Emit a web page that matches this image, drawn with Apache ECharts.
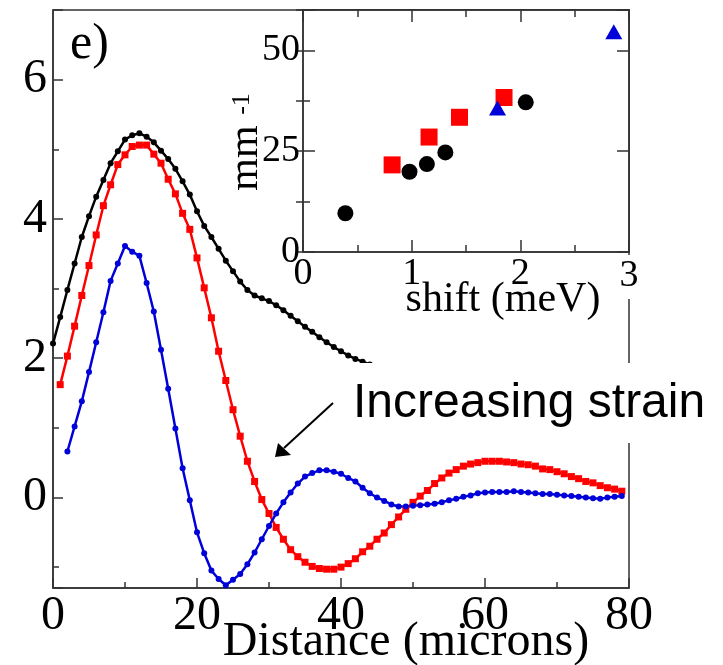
<!DOCTYPE html>
<html><head><meta charset="utf-8">
<script src="https://cdn.jsdelivr.net/npm/echarts@6/dist/echarts.min.js"></script>
<style>html,body{margin:0;padding:0;background:#fff}#c{width:723px;height:665px}</style>
</head><body><div id="c"></div>
<script>
// ---- main panel data (Distance in microns vs value) ----
const blackX = [0,1,2,3,4,5,6,7,8,9,10,11,12,13,14,15,16,17,18,19,20,21,22,23,24,25,26,27,28,29,30,31,32,33,34,35,36,37,38,39,40,41,42,43,44,45,46];
const blackY = [2.21,2.59,2.98,3.36,3.74,4.04,4.32,4.56,4.80,4.97,5.14,5.20,5.23,5.18,5.10,4.98,4.86,4.72,4.54,4.35,4.11,3.90,3.74,3.57,3.40,3.25,3.10,2.98,2.90,2.86,2.82,2.76,2.69,2.61,2.53,2.45,2.38,2.30,2.23,2.16,2.10,2.04,1.99,1.95,1.91,1.87,1.83];
const redX = [1,2,3,4,5,6,7,8,9,10,11,12,13,14,15,16,17,18,19,20,21,22,23,24,25,26,27,28,29,30,31,32,33,34,35,36,37,38,39,40,41,42,43,44,45,46,47,48,49,50,51,52,53,54,55,56,57,58,59,60,61,62,63,64,65,66,67,68,69,70,71,72,73,74,75,76,77,78,79];
const redY = [1.62,2.03,2.46,2.90,3.33,3.77,4.19,4.49,4.78,4.92,5.04,5.06,5.06,4.93,4.80,4.57,4.36,4.08,3.85,3.44,3.01,2.58,2.10,1.68,1.26,0.88,0.52,0.23,-0.03,-0.23,-0.43,-0.60,-0.75,-0.85,-0.93,-0.99,-1.02,-1.03,-1.03,-1.00,-0.95,-0.88,-0.78,-0.70,-0.60,-0.51,-0.39,-0.28,-0.17,-0.07,0.02,0.10,0.20,0.28,0.35,0.40,0.45,0.48,0.50,0.52,0.52,0.52,0.51,0.50,0.48,0.47,0.45,0.41,0.40,0.37,0.34,0.30,0.27,0.23,0.21,0.17,0.14,0.12,0.09];
const blueX = [2,3,4,5,6,7,8,9,10,11,12,13,14,15,16,17,18,19,20,21,22,23,24,25,26,27,28,29,30,31,32,33,34,35,36,37,38,39,40,41,42,43,44,45,46,47,48,49,50,51,52,53,54,55,56,57,58,59,60,61,62,63,64,65,66,67,68,69,70,71,72,73,74,75,76,77,78,79];
const blueY = [0.66,1.02,1.38,1.80,2.23,2.66,3.11,3.36,3.61,3.53,3.47,3.08,2.67,2.12,1.56,0.99,0.42,-0.04,-0.50,-0.80,-1.05,-1.17,-1.26,-1.18,-1.10,-0.96,-0.79,-0.60,-0.41,-0.23,-0.07,0.07,0.20,0.30,0.35,0.39,0.39,0.37,0.34,0.28,0.23,0.14,0.06,0.00,-0.05,-0.10,-0.13,-0.13,-0.12,-0.11,-0.10,-0.09,-0.07,-0.04,-0.02,0.01,0.03,0.06,0.07,0.08,0.08,0.08,0.09,0.08,0.07,0.06,0.05,0.05,0.04,0.03,0.02,0.01,0.00,-0.01,-0.02,0.00,0.01,0.02];
const mainXTickLabels = [0,20,40,60,80];
const mainYTickLabels = [0,2,4,6];

// ---- inset data (shift in meV vs mm^-1) ----
const insetBlackX = [0.39,0.98,1.14,1.31,2.05];
const insetBlackY = [9.6,19.9,21.8,24.7,37.1];
const insetRedX = [0.82,1.16,1.44,1.85];
const insetRedY = [21.6,28.5,33.4,38.3];
const insetBlueX = [1.79,2.86];
const insetBlueY = [35.7,54.6];
const insetXTickLabels = [0,1,2,3];
const insetYTickLabels = [0,25,50];

const zip = (a, b) => a.map((v, i) => [v, b[i]]);
const SERIF = '"Liberation Serif","Times New Roman",serif';
const SANS = '"Liberation Sans",Arial,sans-serif';
const AX = '#333';
const BLUE = '#0000d8';

const chart = echarts.init(document.getElementById('c'), null, {renderer: 'canvas'});
const isIn = (arr, v) => arr.some(t => Math.abs(t - v) < 1e-6);

chart.setOption({
  animation: false,
  grid: [
    {left: 53, top: 10, width: 576, height: 578, show: true, borderColor: AX, borderWidth: 1.5, backgroundColor: 'transparent'},
    {left: 303, top: 10, width: 326, height: 242, show: true, borderColor: AX, borderWidth: 1.5, backgroundColor: '#fff'}
  ],
  xAxis: [
    {gridIndex: 0, type: 'value', min: 0, max: 80, interval: 20, position: 'bottom',
     axisLine: {onZero: false, lineStyle: {color: AX, width: 1.5}},
     axisTick: {inside: true, length: 10, lineStyle: {color: AX, width: 1.5}},
     minorTick: {show: true, splitNumber: 2, length: 6, lineStyle: {color: AX, width: 1.5}},
     splitLine: {show: false},
     axisLabel: {margin: 4, fontSize: 48, fontFamily: SERIF, color: '#000',
       formatter: v => isIn(mainXTickLabels, v) ? String(Math.round(v)) : ''}},
    {gridIndex: 1, type: 'value', min: 0, max: 3, interval: 1, position: 'bottom', z: 5,
     axisLine: {onZero: false, lineStyle: {color: AX, width: 1.5}},
     axisTick: {inside: true, length: 12, lineStyle: {color: AX, width: 1.5}},
     minorTick: {show: true, splitNumber: 2, length: 7, lineStyle: {color: AX, width: 1.5}},
     splitLine: {show: false},
     axisLabel: {margin: 3, fontSize: 38, fontFamily: SERIF, color: '#000',
       formatter: v => isIn(insetXTickLabels, v) ? (Math.round(v) === 3 ? '{w|3}' : String(Math.round(v))) : '',
       rich: {w: {fontSize: 38, fontFamily: SERIF, color: '#000', backgroundColor: '#fff', padding: [2, 2, 4, 2]}}}},
    {gridIndex: 1, type: 'value', min: 0, max: 3, interval: 1, position: 'top',
     axisLine: {onZero: false, lineStyle: {color: AX, width: 1.5}},
     axisTick: {inside: true, length: 12, lineStyle: {color: AX, width: 1.5}},
     minorTick: {show: true, splitNumber: 2, length: 7, lineStyle: {color: AX, width: 1.5}},
     splitLine: {show: false}, axisLabel: {show: false}}
  ],
  yAxis: [
    {gridIndex: 0, type: 'value', min: -1.3, max: 7, minInterval: 2, maxInterval: 2, splitNumber: 4, position: 'left',
     axisLine: {onZero: false, lineStyle: {color: AX, width: 1.5}},
     axisTick: {inside: true, length: 10, lineStyle: {color: AX, width: 1.5}},
     splitLine: {show: false},
     axisLabel: {margin: 6, fontSize: 48, fontFamily: SERIF, color: '#000',
       formatter: v => isIn(mainYTickLabels, v) ? String(Math.round(v)) : ''}},
    {gridIndex: 0, type: 'value', min: -1.3, max: 7, minInterval: 1, maxInterval: 1, splitNumber: 8, position: 'left',
     axisLine: {show: false},
     axisTick: {inside: true, length: 6, lineStyle: {color: AX, width: 1.5}},
     splitLine: {show: false}, axisLabel: {show: false}},
    {gridIndex: 1, type: 'value', min: 0, max: 60, interval: 25, position: 'left',
     axisLine: {onZero: false, lineStyle: {color: AX, width: 1.5}},
     axisTick: {inside: true, length: 12, lineStyle: {color: AX, width: 1.5}},
     splitLine: {show: false},
     axisLabel: {margin: 3, fontSize: 38, fontFamily: SERIF, color: '#000',
       formatter: v => isIn(insetYTickLabels, v) ? String(Math.round(v)) : ''}},
    {gridIndex: 1, type: 'value', min: 0, max: 60, interval: 12.5, position: 'left',
     axisLine: {show: false},
     axisTick: {inside: true, length: 7, lineStyle: {color: AX, width: 1.5}},
     splitLine: {show: false}, axisLabel: {show: false}},
    {gridIndex: 1, type: 'value', min: 0, max: 60, interval: 25, position: 'right',
     axisLine: {onZero: false, lineStyle: {color: AX, width: 1.5}},
     axisTick: {inside: true, length: 12, lineStyle: {color: AX, width: 1.5}},
     splitLine: {show: false}, axisLabel: {show: false}},
    {gridIndex: 1, type: 'value', min: 0, max: 60, interval: 12.5, position: 'right',
     axisLine: {show: false},
     axisTick: {inside: true, length: 7, lineStyle: {color: AX, width: 1.5}},
     splitLine: {show: false}, axisLabel: {show: false}}
  ],
  series: [
    {type: 'line', xAxisIndex: 0, yAxisIndex: 0, data: zip(blackX, blackY), symbol: 'circle', symbolSize: 6, showAllSymbol: true,
     lineStyle: {color: '#000', width: 2.5}, itemStyle: {color: '#000'}},
    {type: 'line', xAxisIndex: 0, yAxisIndex: 0, data: zip(redX, redY), symbol: 'rect', symbolSize: 7, showAllSymbol: true,
     lineStyle: {color: '#ff0000', width: 2.5}, itemStyle: {color: '#ff0000'}},
    {type: 'line', xAxisIndex: 0, yAxisIndex: 0, data: zip(blueX, blueY), symbol: 'circle', symbolSize: 6, showAllSymbol: true,
     lineStyle: {color: BLUE, width: 2.5}, itemStyle: {color: BLUE}},
    {type: 'scatter', xAxisIndex: 1, yAxisIndex: 2, data: zip(insetBlackX, insetBlackY), symbol: 'circle', symbolSize: 16, itemStyle: {color: '#000', opacity: 1}},
    {type: 'scatter', xAxisIndex: 1, yAxisIndex: 2, data: zip(insetRedX, insetRedY), symbol: 'rect', symbolSize: 17, itemStyle: {color: '#ff0000', opacity: 1}},
    {type: 'scatter', xAxisIndex: 1, yAxisIndex: 2, data: zip(insetBlueX, insetBlueY), symbol: 'triangle', symbolSize: [17, 15], itemStyle: {color: BLUE, opacity: 1}}
  ],
  graphic: [
    {type: 'text', x: 70, y: 45, z: 50, style: {text: 'e)', font: '50px ' + SERIF, fill: '#000', align: 'left', verticalAlign: 'middle'}},
    {type: 'text', x: 406, y: 642, z: 50, style: {text: 'Distance (microns)', font: '48px ' + SERIF, fill: '#000', align: 'center', verticalAlign: 'middle'}},
    {type: 'text', x: 503, y: 300, z: 50, style: {text: 'shift (meV)', font: '42px ' + SERIF, fill: '#000', align: 'center', verticalAlign: 'middle'}},
    {type: 'text', x: 246, y: 158, z: 50, rotation: Math.PI / 2, style: {text: 'mm', font: '42px ' + SERIF, fill: '#000', align: 'center', verticalAlign: 'middle'}},
    {type: 'text', x: 242, y: 104, z: 50, rotation: Math.PI / 2, style: {text: '-1', font: '26px ' + SERIF, fill: '#000', align: 'center', verticalAlign: 'middle'}},
    {type: 'rect', z: 100, shape: {x: 345, y: 363, width: 370, height: 80}, style: {fill: '#fff'}},
    {type: 'text', x: 353, y: 403.5, z: 101, style: {text: 'Increasing strain', font: '48px ' + SANS, fill: '#000', align: 'left', verticalAlign: 'middle'}},
    {type: 'line', z: 101, shape: {x1: 333, y1: 403, x2: 284, y2: 448}, style: {stroke: '#000', lineWidth: 2}},
    {type: 'polygon', z: 101, shape: {points: [[275, 457], [278, 443], [291, 455]]}, style: {fill: '#000'}}
  ]
});
</script></body></html>
